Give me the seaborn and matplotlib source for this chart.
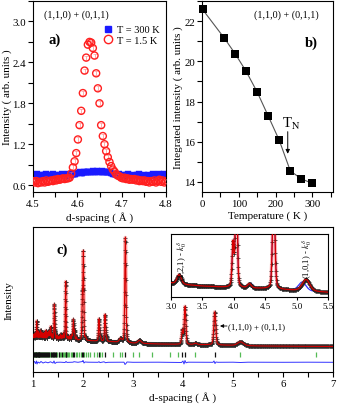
import numpy as np
import matplotlib
matplotlib.use('Agg')
import matplotlib.pyplot as plt
import seaborn as sns
from matplotlib.ticker import MultipleLocator
from matplotlib.lines import Line2D

sns.set_theme(style='ticks')
plt.rcParams['font.family'] = ['Liberation Serif', 'DejaVu Serif']
plt.rcParams['mathtext.fontset'] = 'stix'
plt.rcParams['axes.linewidth'] = 0.8
plt.rcParams['axes.edgecolor'] = 'black'
plt.rcParams['xtick.color'] = 'black'
plt.rcParams['ytick.color'] = 'black'
plt.rcParams['text.color'] = 'black'
plt.rcParams['axes.labelcolor'] = 'black'

# ---------------- panel a data ----------------
d_red = np.linspace(4.5, 4.8, 81)
I_red = [0.66, 0.64, 0.66, 0.63, 0.65, 0.64, 0.66, 0.64, 0.67, 0.65,
         0.66, 0.67, 0.66, 0.68, 0.67, 0.69, 0.68, 0.69, 0.70, 0.69,
         0.70, 0.70, 0.71, 0.77, 0.86, 0.95, 1.07, 1.27, 1.48, 1.69,
         1.95, 2.28, 2.47, 2.66, 2.70, 2.69, 2.61, 2.50, 2.24, 2.02,
         1.80, 1.48, 1.32, 1.20, 1.10, 1.01, 0.94, 0.88, 0.83, 0.80,
         0.76, 0.74, 0.73, 0.71, 0.70, 0.71, 0.69, 0.70, 0.68, 0.69,
         0.68, 0.69, 0.67, 0.68, 0.66, 0.67, 0.66, 0.67, 0.65, 0.66,
         0.64, 0.66, 0.65, 0.67, 0.64, 0.66, 0.68, 0.65, 0.67, 0.64, 0.66]
d_blue = np.linspace(4.5, 4.8, 61)
I_blue = [0.75, 0.74, 0.76, 0.75, 0.74, 0.75, 0.76, 0.74, 0.75, 0.76,
          0.75, 0.74, 0.75, 0.76, 0.75, 0.74, 0.76, 0.75, 0.76, 0.77,
          0.78, 0.79, 0.78, 0.79, 0.80, 0.79, 0.80, 0.81, 0.80, 0.81,
          0.80, 0.81, 0.80, 0.79, 0.80, 0.78, 0.77, 0.76, 0.75, 0.76,
          0.75, 0.74, 0.75, 0.76, 0.74, 0.75, 0.74, 0.75, 0.76, 0.74,
          0.75, 0.73, 0.75, 0.74, 0.76, 0.74, 0.75, 0.76, 0.75, 0.76, 0.75]
legend_a = ['T = 300 K', 'T = 1.5 K']

# ---------------- panel b data ----------------
T_b = [1.5, 60, 90, 120, 150, 180, 210, 240, 270, 300]
Iint_b = [22.58, 21.17, 20.38, 19.50, 18.47, 17.28, 16.07, 14.55, 14.15, 13.93]

# ---------------- panel c data ----------------
bg_d = [1.0, 1.5, 2.0, 2.5, 3.0, 3.5, 4.0, 4.5, 5.0, 5.5, 6.0, 7.0]
bg_v = [34.0, 32.5, 31.5, 30.5, 28.8, 28.0, 27.5, 27.2, 26.6, 26.0, 25.8, 25.5]
nuc_d = [1.020, 1.045, 1.073, 1.100, 1.125, 1.150, 1.175, 1.200, 1.230, 1.260,
         1.290, 1.310, 1.330, 1.353, 1.380, 1.427, 1.445, 1.480, 1.520, 1.550,
         1.580, 1.610, 1.653, 1.700, 1.740, 1.780, 1.807, 1.830, 1.870, 1.987,
         2.007, 2.050, 2.320, 2.350, 2.440, 2.470, 2.750, 2.847, 3.987, 4.040, 4.635]
nuc_h = [4, 5, 17, 7, 5, 8, 6, 5, 6, 8,
         6, 7, 8, 12, 5, 34.5, 6, 4, 3, 5,
         4, 6, 58, 3, 4, 5, 20, 9, 3, 41,
         86, 3, 22, 4, 26.5, 4, 3.5, 105, 14, 37.7, 33]
nuc_w = [0.010, 0.010, 0.010, 0.010, 0.011, 0.011, 0.011, 0.012, 0.012, 0.012,
         0.012, 0.012, 0.013, 0.013, 0.013, 0.014, 0.014, 0.014, 0.015, 0.015,
         0.015, 0.015, 0.016, 0.016, 0.017, 0.017, 0.017, 0.017, 0.018, 0.019,
         0.019, 0.019, 0.022, 0.022, 0.023, 0.023, 0.06, 0.027, 0.035, 0.036, 0.044]
mag_d_red = [3.13, 4.25, 5.15]
mag_h_red = [3.0, 1.3, 3.7]
mag_d_blue = [3.125, 4.27, 5.09]
mag_h_blue = [2.7, 1.5, 2.8]
mag_w = [0.08, 0.07, 0.14]

diff_d = [1.00, 1.03, 1.05, 1.07, 1.08, 1.10, 1.13, 1.16, 1.20, 1.25, 1.30, 1.35,
          1.40, 1.42, 1.44, 1.47, 1.55, 1.64, 1.66, 1.68, 1.80, 1.82, 1.90, 1.99,
          2.00, 2.02, 2.04, 2.10, 2.30, 2.32, 2.34, 2.42, 2.45, 2.50, 2.82, 2.84,
          2.86, 2.88, 3.00, 3.50, 3.97, 4.00, 4.02, 4.04, 4.06, 4.10, 4.60, 4.62,
          4.64, 4.66, 4.70, 5.00, 5.15, 5.30, 6.00, 6.50, 7.00]
diff_v = [9.5, 10.5, 8.5, 11.0, 8.0, 10.0, 9.0, 10.5, 9.0, 10.0, 9.2, 10.2,
          9.0, 11.0, 8.5, 9.7, 9.8, 9.5, 10.5, 9.6, 9.8, 10.3, 9.7, 10.5,
          11.5, 9.0, 10.0, 9.8, 9.7, 10.3, 9.4, 10.2, 9.3, 9.7, 9.8, 7.5,
          8.5, 10.0, 9.7, 9.8, 9.5, 11.0, 8.0, 11.5, 9.2, 9.8, 9.7, 11.0,
          8.5, 10.0, 9.7, 9.8, 9.5, 9.8, 9.7, 9.8, 9.7]

green_ticks = [1.01, 1.03, 1.045, 1.06, 1.085, 1.11, 1.125, 1.14, 1.16, 1.18, 1.20,
               1.22, 1.235, 1.25, 1.27, 1.29, 1.31, 1.33, 1.36, 1.39, 1.41, 1.45,
               1.48, 1.51, 1.54, 1.56, 1.59, 1.61, 1.63, 1.67, 1.69, 1.72, 1.75,
               1.77, 1.85, 1.88, 1.91, 1.95, 2.03, 2.06, 2.09, 2.14, 2.227, 2.273,
               2.34, 2.38, 2.607, 2.74, 2.78, 3.007, 3.127, 3.373, 3.74, 3.907,
               4.24, 5.14, 6.66]
black_ticks = [1.005, 1.02, 1.035, 1.05, 1.065, 1.075, 1.09, 1.10, 1.115, 1.13,
               1.15, 1.165, 1.175, 1.19, 1.21, 1.245, 1.26, 1.28, 1.30, 1.32,
               1.35, 1.37, 1.40, 1.425, 1.43, 1.46, 1.52, 1.57, 1.65, 1.66,
               1.80, 1.82, 1.985, 2.005, 2.31, 2.44, 2.845, 3.973, 4.035, 4.63]


def profile(d, mag_d, mag_h):
    y = np.interp(d, bg_d, bg_v)
    eta = 0.3
    for p, h, w in zip(list(nuc_d) + list(mag_d), list(nuc_h) + list(mag_h),
                       list(nuc_w) + list(mag_w)):
        x = (d - p) / w
        y = y + h * (eta / (1 + 4 * x ** 2) + (1 - eta) * np.exp(-4 * np.log(2) * x ** 2))
    return y


d_fine = np.linspace(1.0, 7.0, 6001)
calc_red = profile(d_fine, mag_d_red, mag_h_red)
calc_blue = profile(d_fine, mag_d_blue, mag_h_blue)
d_obs = np.geomspace(1.0, 7.0, 1950)
obs = profile(d_obs, mag_d_red, mag_h_red)

# ---------------- figure ----------------
W, H = 337, 406
fig = plt.figure(figsize=(W / 100, H / 100), dpi=100)
axA = fig.add_axes([33 / W, 1 - 193 / H, 133 / W, 191 / H])
axB = fig.add_axes([202 / W, 1 - 193 / H, 131 / W, 191 / H])
axC = fig.add_axes([33 / W, 1 - 373 / H, 300 / W, 145 / H])
axI = fig.add_axes([171 / W, 1 - 298 / H, 157 / W, 63 / H])


def style(ax, size=7.8):
    for s in ax.spines.values():
        s.set_visible(True)
        s.set_linewidth(0.8)
        s.set_color('black')
    ax.tick_params(which='both', direction='out', length=3.5, width=0.8,
                   labelsize=size, top=False, right=False, pad=1.5)


# panel a
blue_c = '#1a1aff'
red_c = '#ff2020'
axA.errorbar(d_blue, I_blue, yerr=0.045, fmt='none', ecolor=(0.35, 0.35, 1.0, 0.55),
             elinewidth=1.0, capsize=1.2, capthick=0.6, zorder=1)
sns.scatterplot(x=d_blue, y=I_blue, marker='s', s=14, color=blue_c, edgecolor=blue_c,
                linewidth=0.3, ax=axA, zorder=2)
axA.errorbar(d_red, I_red, yerr=0.03, fmt='none', ecolor=(1.0, 0.45, 0.45, 0.6),
             elinewidth=0.7, capsize=1.2, capthick=0.6, zorder=3)
sns.scatterplot(x=d_red, y=I_red, marker='o', s=26, facecolor='none', edgecolor=red_c,
                linewidth=1.0, ax=axA, zorder=4)
axA.set_xlim(4.5, 4.8)
axA.set_ylim(0.5, 3.3)
axA.xaxis.set_major_locator(MultipleLocator(0.1))
axA.xaxis.set_minor_locator(MultipleLocator(0.05))
axA.yaxis.set_major_locator(MultipleLocator(0.6))
axA.yaxis.set_minor_locator(MultipleLocator(0.3))
style(axA)
axA.set_xlabel('d-spacing ( Å )', fontsize=8, labelpad=2)
axA.set_ylabel('Intensity ( arb. units )', fontsize=8, labelpad=0)
handles = [Line2D([], [], marker='s', ls='', color=blue_c, ms=5),
           Line2D([], [], marker='o', ls='', mfc='none', mec=red_c, mew=1.0, ms=6)]
axA.legend(handles, legend_a, loc='upper left', bbox_to_anchor=(0.53, 0.875),
           frameon=False, fontsize=7.5, handlelength=0.8, handletextpad=0.5,
           labelspacing=0.15, borderpad=0, borderaxespad=0)
axA.text(0.327, 0.932, '(1,1,0) + (0,1,1)', transform=axA.transAxes, fontsize=7.2,
         ha='center', va='center')
axA.text(0.165, 0.80, 'a)', transform=axA.transAxes, fontsize=10.5, fontweight='bold',
         ha='center', va='center')

# panel b
sns.lineplot(x=T_b, y=Iint_b, color='#555555', lw=0.8, ax=axB, estimator=None, sort=False)
sns.scatterplot(x=T_b, y=Iint_b, marker='s', s=26, color='black', edgecolor='black',
                linewidth=0, ax=axB, zorder=3, clip_on=False)
axB.set_xlim(0, 356)
axB.set_ylim(13.5, 23.0)
axB.xaxis.set_major_locator(MultipleLocator(100))
axB.xaxis.set_minor_locator(MultipleLocator(50))
axB.yaxis.set_major_locator(MultipleLocator(2))
axB.yaxis.set_minor_locator(MultipleLocator(1))
style(axB)
axB.set_xlabel('Temperature ( K )', fontsize=8, labelpad=2)
axB.set_ylabel('Integrated intensity ( arb. units )', fontsize=8, labelpad=1)
axB.text(0.645, 0.932, '(1,1,0) + (0,1,1)', transform=axB.transAxes, fontsize=7.2,
         ha='center', va='center')
axB.text(0.837, 0.784, 'b)', transform=axB.transAxes, fontsize=10.5, fontweight='bold',
         ha='center', va='center')
axB.text(243, 16.95, r'T$_{\rm N}$', fontsize=10.5, ha='center', va='center')
axB.annotate('', xy=(233, 15.4), xytext=(233, 16.5),
             arrowprops=dict(arrowstyle='-|>', lw=0.7, color='black', mutation_scale=6,
                             shrinkA=0, shrinkB=0))

# panel c
sns.lineplot(x=d_fine, y=calc_red, color=(1.0, 0.35, 0.35, 0.45), lw=2.6, ax=axC,
             estimator=None, sort=False, zorder=1)
sns.scatterplot(x=d_obs, y=obs, marker='+', s=12, color='#2a2a2a', linewidth=0.5,
                ax=axC, zorder=2)
sns.lineplot(x=d_fine, y=calc_red, color='#d40000', lw=0.8, ax=axC,
             estimator=None, sort=False, zorder=3)
axC.vlines(green_ticks, 15.5, 20.5, color='#55bb55', lw=0.9, zorder=2)
axC.vlines(black_ticks, 15.5, 20.5, color='#111111', lw=0.9, zorder=2)
sns.lineplot(x=diff_d, y=diff_v, color='#3333ff', lw=0.7, ax=axC,
             estimator=None, sort=False, zorder=2)
axC.set_xlim(1, 7)
axC.set_ylim(0, 145)
axC.xaxis.set_major_locator(MultipleLocator(1))
axC.xaxis.set_minor_locator(MultipleLocator(0.5))
axC.set_yticks([])
style(axC)
axC.set_xlabel('d-spacing ( Å )', fontsize=8, labelpad=2)
axC.set_ylabel('Intensity', fontsize=8, labelpad=14)
axC.text(0.097, 0.848, 'c)', transform=axC.transAxes, fontsize=10.5, fontweight='bold',
         ha='center', va='center')
axC.annotate('', xy=(4.74, 46), xytext=(4.88, 46),
             arrowprops=dict(arrowstyle='-|>', lw=0.6, color='black', mutation_scale=5,
                             shrinkA=0, shrinkB=0))
axC.text(4.9, 46, '(1,1,0) + (0,1,1)', fontsize=6.4, ha='left', va='center')

# inset
axI.set_facecolor('white')
m = (d_fine >= 2.95) & (d_fine <= 5.55)
mo = (d_obs >= 2.95) & (d_obs <= 5.55)
sns.lineplot(x=d_fine[m], y=calc_blue[m], color='#3333ff', lw=0.9, ax=axI,
             estimator=None, sort=False, zorder=1)
sns.lineplot(x=d_fine[m], y=calc_red[m], color=(1.0, 0.35, 0.35, 0.45), lw=2.4, ax=axI,
             estimator=None, sort=False, zorder=1)
sns.scatterplot(x=d_obs[mo], y=obs[mo], marker='+', s=12, color='#222222', linewidth=0.5,
                ax=axI, zorder=2)
sns.lineplot(x=d_fine[m], y=calc_red[m], color='#d40000', lw=0.9, ax=axI,
             estimator=None, sort=False, zorder=3)
axI.set_xlim(3.0, 5.5)
axI.set_ylim(24.5, 44.8)
axI.xaxis.set_major_locator(MultipleLocator(0.5))
axI.set_yticks([])
style(axI, size=6.5)
axI.tick_params(length=2, pad=1.5)
axI.set_xlabel('')
axI.set_ylabel('')
axI.text(3.17, 0.59, r'(1,2,1) - $k_0^{\delta}$', transform=axI.get_xaxis_transform(),
         rotation=90, fontsize=6.2, ha='center', va='center')
axI.text(5.17, 0.62, r'(1,0,1) - $k_0^{\delta}$', transform=axI.get_xaxis_transform(),
         rotation=90, fontsize=6.2, ha='center', va='center')

fig.savefig('out.png', dpi=100)
